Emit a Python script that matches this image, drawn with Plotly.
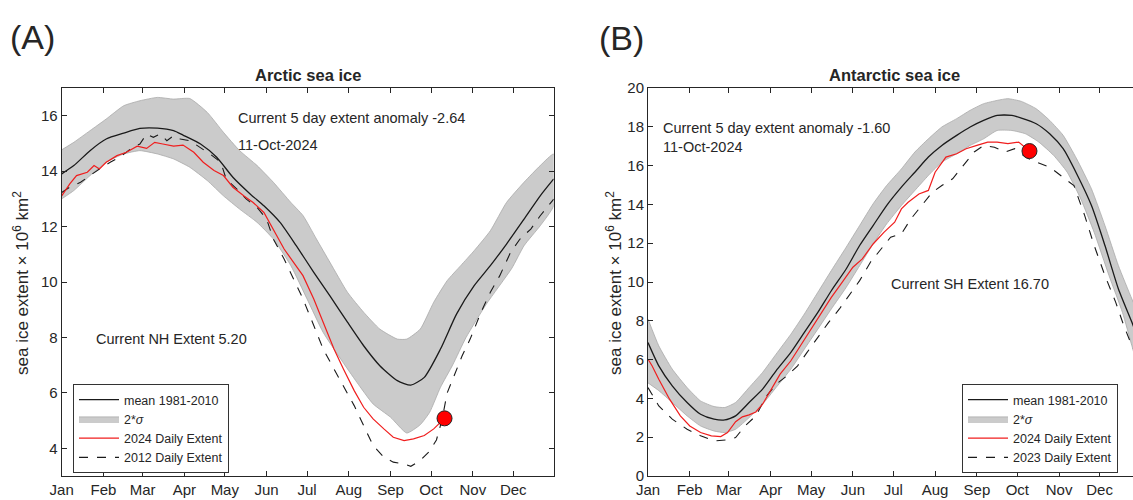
import plotly.graph_objects as go

months = ["Jan", "Feb", "Mar", "Apr", "May", "Jun", "Jul", "Aug", "Sep", "Oct", "Nov", "Dec"]
month_start = [1, 32, 61, 92, 122, 153, 183, 214, 245, 275, 306, 336]

# ---- Arctic (values in 10^6 km^2, x = day of year) ----
arctic_mean_day = [1, 10, 22, 34, 47, 59, 72, 84, 91, 104, 116, 128, 141, 151, 163, 175, 188, 200,
                   213, 225, 237, 250, 260, 270, 282, 294, 307, 319, 331, 344, 356, 366]
arctic_mean = [13.9, 14.2, 14.74, 15.16, 15.37, 15.54, 15.55, 15.46, 15.3, 14.98, 14.5, 13.78, 13.17,
               12.75, 12.15, 11.31, 10.35, 9.5, 8.55, 7.7, 6.98, 6.44, 6.28, 6.56, 7.58, 8.85, 9.87,
               10.59, 11.37, 12.27, 13.11, 13.72]
arctic_hi_day = [1, 10, 22, 34, 47, 59, 72, 84, 96, 109, 121, 133, 146, 158, 171, 180, 190, 200, 213,
                 225, 237, 250, 257, 267, 277, 287, 297, 307, 319, 331, 344, 356, 366]
arctic_hi = [14.77, 15.04, 15.46, 15.88, 16.36, 16.54, 16.66, 16.6, 16.62, 16.12, 15.4, 14.74, 14.2,
             13.6, 12.87, 12.4, 11.55, 10.71, 9.63, 8.91, 8.3, 7.94, 7.94, 8.3, 9.27, 10.05, 10.59,
             11.13, 11.85, 12.87, 13.6, 14.2, 14.62]
arctic_lo_day = [1, 10, 22, 34, 47, 59, 72, 84, 96, 109, 121, 133, 146, 158, 171, 183, 195, 208, 220,
                 232, 245, 257, 267, 274, 282, 291, 301, 316, 335, 344, 356, 366]
arctic_lo = [13.0, 13.3, 13.84, 14.32, 14.62, 14.74, 14.62, 14.44, 14.14, 13.66, 13.11, 12.63, 12.15,
             11.55, 10.59, 9.39, 8.18, 7.22, 6.38, 5.6, 5.12, 4.55, 4.85, 5.3, 6.2, 7.0, 8.0, 9.2,
             10.5, 11.31, 12.03, 12.75]
arctic_2024_day = [1, 7, 12, 20, 25, 29, 34, 42, 49, 57, 64, 70, 76, 84, 91, 99, 106, 114, 121, 128,
                   136, 143, 151, 158, 166, 173, 180, 188, 195, 203, 210, 218, 225, 232, 240, 247,
                   255, 262, 270, 277, 285]
arctic_2024 = [13.11, 13.54, 13.84, 13.96, 14.2, 14.08, 14.32, 14.56, 14.68, 14.9, 14.82, 15.04, 14.98,
               14.9, 14.94, 14.68, 14.32, 14.02, 13.84, 13.42, 13.11, 12.87, 12.51, 11.91, 11.19,
               10.71, 10.23, 9.39, 8.55, 7.58, 6.86, 6.08, 5.48, 5.06, 4.7, 4.4, 4.28, 4.34, 4.46,
               4.7, 5.08]
arctic_2012_day = [1, 7, 15, 22, 29, 37, 44, 52, 59, 64, 69, 74, 79, 84, 89, 96, 104, 111, 119, 123,
                   131, 138, 146, 153, 158, 166, 173, 180, 188, 195, 203, 210, 218, 225, 232, 240,
                   247, 255, 260, 267, 274, 279, 283, 287, 292, 298, 304, 312, 319, 326, 334, 341,
                   349, 356, 366]
arctic_2012 = [13.23, 13.42, 13.6, 13.84, 14.08, 14.32, 14.5, 14.8, 14.98, 15.34, 15.22, 15.34, 15.1,
               15.28, 15.16, 15.1, 14.86, 14.62, 14.32, 13.72, 13.35, 12.99, 12.69, 12.27, 11.55,
               10.83, 10.11, 9.39, 8.43, 7.58, 6.86, 6.26, 5.54, 4.82, 4.1, 3.68, 3.5, 3.44, 3.35,
               3.56, 3.9, 4.3, 5.0, 6.0, 6.6, 7.33, 7.94, 8.9, 9.63, 10.23, 11.07, 11.55, 11.91,
               12.39, 12.99]
arctic_now_day = [285]
arctic_now = [5.08]

# ---- Antarctic ----
antarctic_mean_day = [1, 9, 19, 30, 40, 50, 58, 66, 76, 86, 96, 107, 117, 127, 137, 148, 158, 168,
                      178, 189, 199, 209, 219, 230, 240, 250, 260, 271, 278, 289, 299, 309, 319,
                      330, 340, 350, 360, 366]
antarctic_mean = [6.88, 5.68, 4.65, 3.79, 3.18, 2.93, 2.89, 3.1, 3.79, 4.48, 5.42, 6.37, 7.4, 8.43,
                  9.55, 10.67, 11.88, 12.91, 13.94, 14.89, 15.66, 16.44, 17.04, 17.56, 17.99, 18.33,
                  18.59, 18.59, 18.45, 18.16, 17.64, 16.87, 15.58, 13.94, 11.88, 9.64, 7.92, 6.85]
antarctic_hi_day = [1, 9, 19, 30, 40, 50, 58, 66, 76, 86, 96, 107, 117, 127, 137, 148, 158, 168,
                    178, 189, 199, 209, 219, 230, 240, 250, 260, 268, 278, 289, 299, 309, 319, 330,
                    340, 350, 360, 366]
antarctic_hi = [8.09, 6.71, 5.51, 4.56, 3.87, 3.58, 3.53, 3.79, 4.56, 5.34, 6.28, 7.31, 8.35, 9.47,
                10.59, 11.79, 12.91, 14.03, 14.97, 15.83, 16.7, 17.38, 17.99, 18.42, 18.85, 19.19,
                19.36, 19.45, 19.31, 18.93, 18.33, 17.56, 16.35, 14.8, 12.91, 10.84, 9.12, 8.1]
antarctic_lo_day = [1, 9, 19, 30, 40, 50, 58, 66, 76, 86, 96, 107, 117, 127, 137, 148, 158, 168,
                    178, 189, 199, 209, 219, 230, 240, 250, 260, 271, 281, 291, 302, 312, 322, 332,
                    343, 353, 360, 366]
antarctic_lo = [4.8, 4.4, 3.79, 3.1, 2.58, 2.32, 2.24, 2.41, 3.01, 3.7, 4.56, 5.51, 6.54, 7.57, 8.61,
                9.72, 10.84, 11.96, 12.99, 13.94, 14.72, 15.49, 16.18, 16.61, 17.04, 17.38, 17.81,
                17.81, 17.64, 17.21, 16.52, 15.66, 14.29, 12.56, 10.33, 8.43, 6.71, 5.3]
antarctic_2024_day = [1, 4, 9, 17, 25, 32, 40, 48, 55, 60, 66, 71, 76, 81, 86, 91, 99, 107, 114, 122,
                      130, 137, 145, 153, 160, 168, 176, 184, 189, 194, 202, 209, 214, 222, 230,
                      237, 245, 253, 260, 268, 276, 284]
antarctic_2024 = [6.02, 5.68, 4.99, 3.96, 3.1, 2.58, 2.24, 2.07, 2.03, 2.24, 2.8, 3.05, 3.15, 3.3,
                  3.7, 4.3, 5.25, 5.94, 6.71, 7.57, 8.43, 9.21, 9.98, 10.76, 11.19, 11.96, 12.56,
                  13.08, 13.77, 14.11, 14.54, 14.72, 15.66, 16.44, 16.61, 16.87, 17.04, 17.21,
                  17.21, 17.13, 17.21, 16.75]
antarctic_2023_day = [1, 9, 19, 30, 40, 50, 60, 66, 73, 81, 89, 96, 104, 112, 119, 127, 135, 143,
                      150, 158, 166, 173, 181, 189, 196, 204, 212, 219, 227, 235, 243, 250, 258,
                      266, 273, 281, 289, 299, 309, 317, 325, 332, 340, 348, 354, 360, 364]
antarctic_2023 = [4.56, 3.61, 2.93, 2.41, 2.07, 1.81, 1.86, 1.98, 2.58, 3.1, 4.13, 4.73, 5.16, 5.68,
                  6.37, 7.14, 7.92, 8.61, 9.29, 10.07, 11.02, 11.62, 12.31, 12.48, 13.25, 13.94,
                  14.63, 14.97, 15.32, 16.01, 16.7, 17.04, 16.95, 16.7, 16.87, 16.44, 16.18, 15.92,
                  15.4, 14.97, 13.42, 11.88, 10.33, 8.95, 7.75, 6.71, 6.2]
antarctic_now_day = [284]
antarctic_now = [16.75]

FONT = "Liberation Sans, Arial, sans-serif"
INK = "#262626"
BAND = "#cbcbcb"
RED = "#f01e1e"

fig = go.Figure()


def add_panel(xa, ya, leg, mean_d, mean_v, hi_d, hi_v, lo_d, lo_v, cur_d, cur_v, old_d, old_v,
              old_name, now_d, now_v):
    band_x = list(hi_d) + list(reversed(lo_d))
    band_y = list(hi_v) + list(reversed(lo_v))
    fig.add_trace(go.Scatter(x=band_x, y=band_y, fill="toself", fillcolor=BAND, mode="lines",
                             line=dict(color="#a9a9a9", width=0.8, shape="spline", smoothing=0.5),
                             name="2*<i>σ</i>", legendrank=2, xaxis=xa, yaxis=ya, legend=leg))
    fig.add_trace(go.Scatter(x=mean_d, y=mean_v, mode="lines",
                             line=dict(color="#1a1a1a", width=1.3, shape="spline", smoothing=0.6),
                             name="mean 1981-2010", legendrank=1, xaxis=xa, yaxis=ya, legend=leg))
    fig.add_trace(go.Scatter(x=old_d, y=old_v, mode="lines",
                             line=dict(color="#1a1a1a", width=1.1, dash="dash"),
                             name=old_name, legendrank=4, xaxis=xa, yaxis=ya, legend=leg))
    fig.add_trace(go.Scatter(x=cur_d, y=cur_v, mode="lines",
                             line=dict(color=RED, width=1.2),
                             name="2024 Daily Extent", legendrank=3, xaxis=xa, yaxis=ya, legend=leg))
    fig.add_trace(go.Scatter(x=now_d, y=now_v, mode="markers", showlegend=False,
                             marker=dict(size=15, color="#ff0000", line=dict(color="#222", width=1)),
                             xaxis=xa, yaxis=ya))


add_panel("x", "y", "legend", arctic_mean_day, arctic_mean, arctic_hi_day, arctic_hi,
          arctic_lo_day, arctic_lo, arctic_2024_day, arctic_2024, arctic_2012_day, arctic_2012,
          "2012 Daily Extent", arctic_now_day, arctic_now)
add_panel("x2", "y2", "legend2", antarctic_mean_day, antarctic_mean, antarctic_hi_day, antarctic_hi,
          antarctic_lo_day, antarctic_lo, antarctic_2024_day, antarctic_2024, antarctic_2023_day,
          antarctic_2023, "2023 Daily Extent", antarctic_now_day, antarctic_now)

W, H = 1133, 500
px_day = 492 / 365

axis_common = dict(showgrid=False, zeroline=False, showline=True, linecolor=INK, linewidth=1,
                   ticks="inside", ticklen=5, tickcolor=INK, tickfont=dict(family=FONT, size=15, color=INK),
                   automargin=False)

xa_ticks = dict(tickmode="array", tickvals=month_start, ticktext=months)
fig.update_layout(
    xaxis=dict(domain=[61.7 / W, 553.7 / W], range=[1, 366], mirror="ticks", anchor="y",
               **xa_ticks, **axis_common),
    yaxis=dict(domain=[1 - 476 / H, 1 - 88 / H], range=[3, 17], tickvals=[4, 6, 8, 10, 12, 14, 16],
               mirror="ticks", anchor="x", **axis_common),
    xaxis2=dict(domain=[648 / W, 1.0], range=[1, 1 + (W - 648) / px_day], mirror="ticks",
                anchor="y2", **xa_ticks, **axis_common),
    yaxis2=dict(domain=[1 - 476 / H, 1 - 88 / H], range=[0, 20], dtick=2, anchor="x2",
                **axis_common),
)

legend_common = dict(bgcolor="white", bordercolor="#333", borderwidth=1,
                     font=dict(family=FONT, size=12.5, color=INK), xanchor="left", yanchor="top",
                     tracegroupgap=0, itemwidth=40)
fig.update_layout(
    legend=dict(x=73 / W, y=1 - 384 / H, **legend_common),
    legend2=dict(x=962 / W, y=1 - 384 / H, **legend_common),
)

ylab = "sea ice extent × 10<sup>6</sup> km<sup>2</sup>"
notes = [
    dict(text="(A)", x=8 / W, y=1 - 37 / H, xref="paper", yref="paper", xanchor="left",
         yanchor="middle", font=dict(size=34)),
    dict(text="(B)", x=597 / W, y=1 - 38 / H, xref="paper", yref="paper", xanchor="left",
         yanchor="middle", font=dict(size=34)),
    dict(text="<b>Arctic sea ice</b>", x=307.7 / W, y=1 - 75 / H, xref="paper", yref="paper",
         xanchor="center", yanchor="middle", font=dict(size=16.5)),
    dict(text="<b>Antarctic sea ice</b>", x=894 / W, y=1 - 75 / H, xref="paper", yref="paper",
         xanchor="center", yanchor="middle", font=dict(size=16.5)),
    dict(text=ylab, x=21 / W, y=1 - 283 / H, xref="paper", yref="paper", textangle=-90,
         xanchor="center", yanchor="middle", font=dict(size=17)),
    dict(text=ylab, x=614 / W, y=1 - 283 / H, xref="paper", yref="paper", textangle=-90,
         xanchor="center", yanchor="middle", font=dict(size=17)),
    dict(text="Current 5 day extent anomaly -2.64", x=130, y=15.92, xref="x", yref="y",
         xanchor="left", yanchor="middle"),
    dict(text="11-Oct-2024", x=130, y=14.94, xref="x", yref="y", xanchor="left", yanchor="middle"),
    dict(text="Current NH Extent 5.20", x=25, y=7.95, xref="x", yref="y", xanchor="left",
         yanchor="middle"),
    dict(text="Current 5 day extent anomaly -1.60", x=10.5, y=17.93, xref="x2", yref="y2",
         xanchor="left", yanchor="middle"),
    dict(text="11-Oct-2024", x=10.5, y=16.95, xref="x2", yref="y2", xanchor="left",
         yanchor="middle"),
    dict(text="Current SH Extent 16.70", x=180, y=9.9, xref="x2", yref="y2", xanchor="left",
         yanchor="middle"),
]
for n in notes:
    f = dict(family=FONT, size=14.5, color=INK)
    f.update(n.pop("font", {}))
    fig.add_annotation(showarrow=False, font=f, **n)

fig.update_layout(width=W, height=H, margin=dict(l=0, r=0, t=0, b=0), paper_bgcolor="white",
                  plot_bgcolor="white", font=dict(family=FONT, color=INK))

# drop the browser's default 8px body margin so the figure sits at the window corner
fig.write_html("out.html", config={"displayModeBar": False},
               post_script="document.body.style.margin='0';")
